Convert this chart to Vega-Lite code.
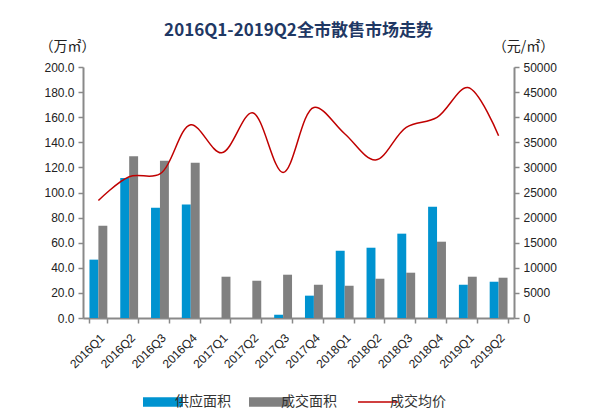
{
  "$schema": "https://vega.github.io/schema/vega-lite/v6.json",
  "width": 431,
  "height": 251,
  "autosize": {"type": "none"},
  "padding": {"left": 83, "top": 67, "right": 83, "bottom": 100},
  "background": "white",
  "config": {
    "font": "Liberation Sans",
    "view": {"stroke": null},
    "axis": {
      "domainColor": "#898989",
      "domainWidth": 2,
      "tickColor": "#898989",
      "tickWidth": 1.5,
      "tickSize": 5,
      "labelFontSize": 12,
      "labelColor": "#222222",
      "labelFont": "Liberation Sans",
      "grid": false
    }
  },
  "title": {
    "text": "2016Q1-2019Q2全市散售市场走势",
    "font": "Noto Sans CJK SC",
    "fontSize": 17,
    "fontWeight": "bold",
    "color": "#1F3864",
    "anchor": "middle",
    "offset": -1
  },
  "data": {
    "values": [
      {"q": "2016Q1", "series": "供应面积", "value": 46.5},
      {"q": "2016Q2", "series": "供应面积", "value": 111.5},
      {"q": "2016Q3", "series": "供应面积", "value": 87.9},
      {"q": "2016Q4", "series": "供应面积", "value": 90.5},
      {"q": "2017Q1", "series": "供应面积", "value": 0},
      {"q": "2017Q2", "series": "供应面积", "value": 0},
      {"q": "2017Q3", "series": "供应面积", "value": 2.6},
      {"q": "2017Q4", "series": "供应面积", "value": 17.8},
      {"q": "2018Q1", "series": "供应面积", "value": 53.6},
      {"q": "2018Q2", "series": "供应面积", "value": 56.0},
      {"q": "2018Q3", "series": "供应面积", "value": 67.2},
      {"q": "2018Q4", "series": "供应面积", "value": 88.7},
      {"q": "2019Q1", "series": "供应面积", "value": 26.5},
      {"q": "2019Q2", "series": "供应面积", "value": 28.9},
      {"q": "2016Q1", "series": "成交面积", "value": 73.5},
      {"q": "2016Q2", "series": "成交面积", "value": 128.8},
      {"q": "2016Q3", "series": "成交面积", "value": 125.3},
      {"q": "2016Q4", "series": "成交面积", "value": 123.7},
      {"q": "2017Q1", "series": "成交面积", "value": 32.9},
      {"q": "2017Q2", "series": "成交面积", "value": 29.7},
      {"q": "2017Q3", "series": "成交面积", "value": 34.5},
      {"q": "2017Q4", "series": "成交面积", "value": 26.5},
      {"q": "2018Q1", "series": "成交面积", "value": 25.7},
      {"q": "2018Q2", "series": "成交面积", "value": 31.3},
      {"q": "2018Q3", "series": "成交面积", "value": 36.1},
      {"q": "2018Q4", "series": "成交面积", "value": 60.8},
      {"q": "2019Q1", "series": "成交面积", "value": 32.9},
      {"q": "2019Q2", "series": "成交面积", "value": 32.1},
      {"q": "2016Q1", "series": "成交均价", "value": 23400},
      {"q": "2016Q2", "series": "成交均价", "value": 28150},
      {"q": "2016Q3", "series": "成交均价", "value": 28700},
      {"q": "2016Q4", "series": "成交均价", "value": 38500},
      {"q": "2017Q1", "series": "成交均价", "value": 32900},
      {"q": "2017Q2", "series": "成交均价", "value": 40900},
      {"q": "2017Q3", "series": "成交均价", "value": 29000},
      {"q": "2017Q4", "series": "成交均价", "value": 41950},
      {"q": "2018Q1", "series": "成交均价", "value": 36700},
      {"q": "2018Q2", "series": "成交均价", "value": 31470},
      {"q": "2018Q3", "series": "成交均价", "value": 37970},
      {"q": "2018Q4", "series": "成交均价", "value": 39960},
      {"q": "2019Q1", "series": "成交均价", "value": 45900},
      {"q": "2019Q2", "series": "成交均价", "value": 36300}
    ]
  },
  "encoding": {
    "x": {
      "field": "q",
      "type": "ordinal",
      "sort": null,
      "scale": {"paddingInner": 0.42, "paddingOuter": 0.21},
      "axis": {
        "title": null,
        "labelAngle": -45,
        "tickBand": "extent",
        "labelPadding": 9
      }
    },
    "color": {
      "field": "series",
      "type": "nominal",
      "scale": {
        "domain": ["供应面积", "成交面积", "成交均价"],
        "range": ["#0093D0", "#808080", "#C00000"]
      },
      "legend": {
        "title": null,
        "orient": "none",
        "direction": "horizontal",
        "legendX": 73,
        "legendY": 328,
        "labelFont": "Noto Sans CJK SC",
        "labelFontSize": 14,
        "labelColor": "#333333",
        "labelOffset": 5,
        "columnPadding": 18,
        "labelLimit": 200,
        "symbolSize": 1600,
        "encode": {
          "symbols": {
            "update": {
              "shape": {"signal": "datum.value === '成交均价' ? 'stroke' : 'M-1,-0.24H1V0.24H-1Z'"},
              "fill": {"scale": "color", "field": "value"},
              "stroke": {"scale": "color", "field": "value"},
              "strokeWidth": {"signal": "datum.value === '成交均价' ? 1.5 : 0"},
              "opacity": {"value": 1},
              "fillOpacity": {"value": 1}
            }
          },
          "labels": {
            "update": {
              "fontSize": {"value": 14}
            }
          }
        }
      }
    }
  },
  "layer": [
    {
      "transform": [{"filter": "datum.series !== '成交均价'"}],
      "mark": {"type": "bar"},
      "encoding": {
        "xOffset": {
          "field": "series",
          "type": "nominal",
          "scale": {"domain": ["供应面积", "成交面积"], "paddingInner": 0, "paddingOuter": 0}
        },
        "y": {
          "field": "value",
          "type": "quantitative",
          "scale": {"domain": [0, 200]},
          "axis": {
            "title": "（万㎡）",
            "titleAngle": 0,
            "titleX": -16,
            "titleY": -21,
            "titleAlign": "center",
            "titleBaseline": "middle",
            "titleFont": "Noto Sans CJK SC",
            "titleFontSize": 14,
            "titleFontWeight": "normal",
            "titleColor": "#222222",
            "format": ".1f",
            "values": [0, 20, 40, 60, 80, 100, 120, 140, 160, 180, 200],
            "labelPadding": 4
          }
        }
      }
    },
    {
      "transform": [{"filter": "datum.series === '成交均价'"}],
      "mark": {"type": "line", "interpolate": "catmull-rom", "strokeWidth": 1.5},
      "encoding": {
        "y": {
          "field": "value",
          "type": "quantitative",
          "scale": {"domain": [0, 50000]},
          "axis": {
            "orient": "right",
            "title": "（元/㎡）",
            "titleAngle": 0,
            "titleX": 9,
            "titleY": -21,
            "titleAlign": "center",
            "titleBaseline": "middle",
            "titleFont": "Noto Sans CJK SC",
            "titleFontSize": 14,
            "titleFontWeight": "normal",
            "titleColor": "#222222",
            "format": "d",
            "values": [0, 5000, 10000, 15000, 20000, 25000, 30000, 35000, 40000, 45000, 50000],
            "labelPadding": 4
          }
        }
      }
    }
  ],
  "resolve": {"scale": {"y": "independent"}}
}
